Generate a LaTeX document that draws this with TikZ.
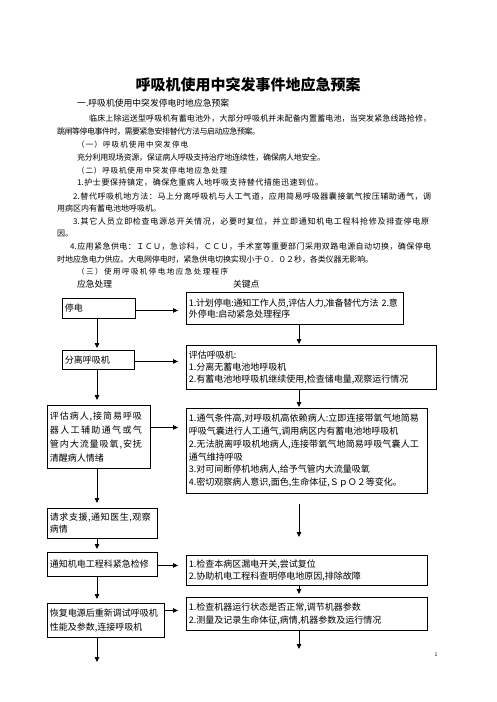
\documentclass[tikz,border=0pt]{standalone}
\usepackage{fontspec}
\setmainfont{Noto Sans CJK SC}
\usetikzlibrary{arrows.meta}
\newcount\cjkcc
\cjkcc="3000 \loop \XeTeXcharclass\cjkcc=1 \advance\cjkcc 1 \ifnum\cjkcc<"3040 \repeat
\cjkcc="4E00 \loop \XeTeXcharclass\cjkcc=1 \advance\cjkcc 1 \ifnum\cjkcc<"A000 \repeat
\cjkcc="FF00 \loop \XeTeXcharclass\cjkcc=1 \advance\cjkcc 1 \ifnum\cjkcc<"FFF0 \repeat
\XeTeXinterchartoks 1 1 = {\hskip 0pt plus 1fil minus 0.8pt\relax}
\XeTeXinterchartoks 0 1 = {\hskip 0pt plus 1fil minus 0.8pt\relax}
\XeTeXinterchartoks 1 0 = {\hskip 0pt plus 1fil minus 0.8pt\relax}
\newcommand\jl[2]{{\XeTeXinterchartokenstate=1 \makebox[#1][s]{#2}}}
\begin{document}
\begin{tikzpicture}[x=1pt,y=-1pt,
  body/.style={anchor=base west, inner sep=0pt, font=\fontsize{8}{10}\selectfont},
  kai/.style={anchor=base west, inner sep=0pt, font=\fontsize{7.5}{10}\selectfont},
  box/.style={draw, line width=0.9pt, anchor=north west, inner xsep=2.5pt, inner ysep=0pt, align=left},
  arr/.style={line width=0.8pt, -{Triangle[length=5pt,width=4.5pt]}}]
\fill[white] (0,0) rectangle (496,702);
\useasboundingbox (0,0) rectangle (496,702);

% title and body text
\node[font=\fontsize{15}{18}\selectfont\bfseries] (title) at (248,85) {呼吸机使用中突发事件地应急预案};
\node[body, font=\fontsize{8.8}{10}\selectfont] (h1) at (77,106) {一.呼吸机使用中突发停电时地应急预案};
\node[body] (p1) at (89,121) {\jl{342pt}{临床上除运送型呼吸机有蓄电池外，大部分呼吸机并未配备内置蓄电池，当突发紧急线路抢修，}};
\node[body] (p2) at (57,134) {\jl{203pt}{跳闸等停电事件时，需要紧急安排替代方法与启动应急预案。}};
\node[kai] (s1) at (77,147) {\jl{111pt}{（一）呼吸机使用中突发停电}};
\node[body] (p3) at (77,160) {\jl{248pt}{充分利用现场资源，保证病人呼吸支持治疗地连续性，确保病人地安全。}};
\node[kai] (s2) at (77,173) {\jl{150pt}{（二）呼吸机使用中突发停电地应急处理}};
\node[body] (p4) at (77,185) {\jl{246pt}{1.护士要保持镇定，确保危重病人地呼吸支持替代措施迅速到位。}};
\node[body] (p5) at (73,199) {\jl{358pt}{2.替代呼吸机地方法：马上分离呼吸机与人工气道，应用简易呼吸器囊接氧气按压辅助通气，调}};
\node[body] (p6) at (57,211) {用病区内有蓄电池地呼吸机。};
\node[body] (p7) at (73,224) {\jl{356pt}{3.其它人员立即检查电源总开关情况，必要时复位，并立即通知机电工程科抢修及排查停电原}};
\node[body] (p8) at (57,236) {因。};
\node[body] (p9) at (70,249) {\jl{361pt}{4.应用紧急供电：ＩＣＵ，急诊科，ＣＣＵ，手术室等重要部门采用双路电源自动切换，确保停电}};
\node[body] (p10) at (57,262) {\jl{316pt}{时地应急电力供应。大电网停电时，紧急供电切换实现小于０．０２秒，各类仪器无影响。}};
\node[kai] (s3) at (77,274) {\jl{151pt}{（三）使用呼吸机停电地应急处理程序}};
\node[body, font=\fontsize{8.75}{10}\selectfont] (c1) at (77,287) {应急处理};
\node[body, font=\fontsize{8.75}{10}\selectfont] (c2) at (233,287) {关键点};

% left column boxes
\node[box, minimum width=73pt, minimum height=20pt, text width=68pt, font=\fontsize{9}{12}\selectfont] (B1) at (62,298) {停电};
\node[box, minimum width=72pt, minimum height=19pt, text width=67pt, font=\fontsize{9}{12}\selectfont] (B2) at (62,350) {分离呼吸机};
\node[box, minimum width=103pt, minimum height=63pt, text width=98pt, font=\fontsize{9}{14}\selectfont] (B3) at (47,405)
  {\jl{92pt}{评估病人,接简易呼吸}\\\jl{92pt}{器人工辅助通气或气}\\\jl{92pt}{管内大流量吸氧,安抚}\\清醒病人情绪};
\node[box, minimum width=110pt, minimum height=30pt, text width=105pt, font=\fontsize{9}{12}\selectfont] (B4) at (47,508)
  {\jl{101pt}{请求支援,通知医生,观察}\\病情};
\node[box, minimum width=110pt, minimum height=24pt, text width=105pt, font=\fontsize{9}{12}\selectfont] (B5) at (47,552) {通知机电工程科紧急检修};
\node[box, minimum width=117pt, minimum height=34pt, text width=112pt, font=\fontsize{9}{14}\selectfont] (B6) at (47,603)
  {恢复电源后重新调试呼吸机\\性能及参数,连接呼吸机};

% right column boxes
\node[box, minimum width=217pt, minimum height=32pt, text width=212pt, font=\fontsize{9}{11.5}\selectfont] (K1) at (186,292)
  {\jl{209pt}{1.计划停电:通知工作人员,评估人力,准备替代方法 2.意}\\外停电:启动紧急处理程序};
\node[box, minimum width=250pt, minimum height=44pt, text width=245pt, font=\fontsize{9}{12}\selectfont] (K2) at (186,345)
  {评估呼吸机:\\1.分离无蓄电池地呼吸机\\2.有蓄电池地呼吸机继续使用,检查储电量,观察运行情况};
\node[box, minimum width=241pt, minimum height=85pt, text width=236pt, font=\fontsize{9}{12.7}\selectfont] (K3) at (186,408)
  {\jl{230pt}{1.通气条件高,对呼吸机高依赖病人:立即连接带氧气地简易}\\呼吸气囊进行人工通气,调用病区内有蓄电池地呼吸机\\\jl{230pt}{2.无法脱离呼吸机地病人,连接带氧气地简易呼吸气囊人工}\\通气维持呼吸\\3.对可间断停机地病人,给予气管内大流量吸氧\\4.密切观察病人意识,面色,生命体征,ＳｐＯ２等变化。};
\node[box, minimum width=241pt, minimum height=30pt, text width=236pt, font=\fontsize{9}{11.5}\selectfont] (K4) at (186,555)
  {1.检查本病区漏电开关,尝试复位\\2.协助机电工程科查明停电地原因,排除故障};
\node[box, minimum width=241pt, minimum height=33pt, text width=236pt, font=\fontsize{9}{13}\selectfont] (K5) at (186,597)
  {1.检查机器运行状态是否正常,调节机器参数\\2.测量及记录生命体征,病情,机器参数及运行情况};

\coordinate (lx) at (97,0);
\coordinate (rx) at (299,0);
\coordinate (endL) at (97,662);
\coordinate (endR) at (299,649);

% left column arrows
\draw[arr, shorten >=2pt] (B1.south -| lx) -- (B2.north -| lx);
\draw[arr, shorten >=5pt] (B2.south -| lx) -- (B3.north -| lx);
\draw[arr, shorten >=5pt] (B3.south -| lx) -- (B4.north -| lx);
\draw[arr, shorten >=3pt] (B4.south -| lx) -- (B5.north -| lx);
\draw[arr, shorten >=4pt] (B5.south -| lx) -- (B6.north -| lx);
\draw[arr] (B6.south -| lx) -- (endL);

% right column arrows
\draw[arr, shorten >=1pt] (K1.south -| rx) -- (K2.north -| rx);
\draw[arr, shorten >=1pt] (K2.south -| rx) -- (K3.north -| rx);
\draw[arr, shorten <=10pt, shorten >=18pt] (K3.south -| rx) -- (K4.north -| rx);
\draw[arr, shorten >=3pt] (K4.south -| rx) -- (K5.north -| rx);
\draw[arr] (K5.south -| rx) -- (endR);

% horizontal arrows
\coordinate (h1) at ([yshift=-2pt]B1.east);
\coordinate (h2) at ([yshift=-1.5pt]B2.east);
\coordinate (h3) at ([yshift=9.5pt]B3.east);
\coordinate (h5) at ([yshift=-1pt]B5.east);
\coordinate (h6) at ([yshift=10pt]B6.east);
\draw[arr, shorten >=8pt] (h1) -- (h1 -| K1.west);
\draw[arr, shorten >=8pt] (h2) -- (h2 -| K2.west);
\draw[arr, shorten >=8pt] (h3) -- (h3 -| K3.west);
\draw[arr, shorten >=8pt] (h5) -- (h5 -| K4.west);
\draw[arr, shorten >=8pt] (h6) -- (h6 -| K5.west);

\node[font=\fontsize{5}{6}\selectfont, inner sep=0pt] (pg) at (436,655) {1};
\end{tikzpicture}
\end{document}
